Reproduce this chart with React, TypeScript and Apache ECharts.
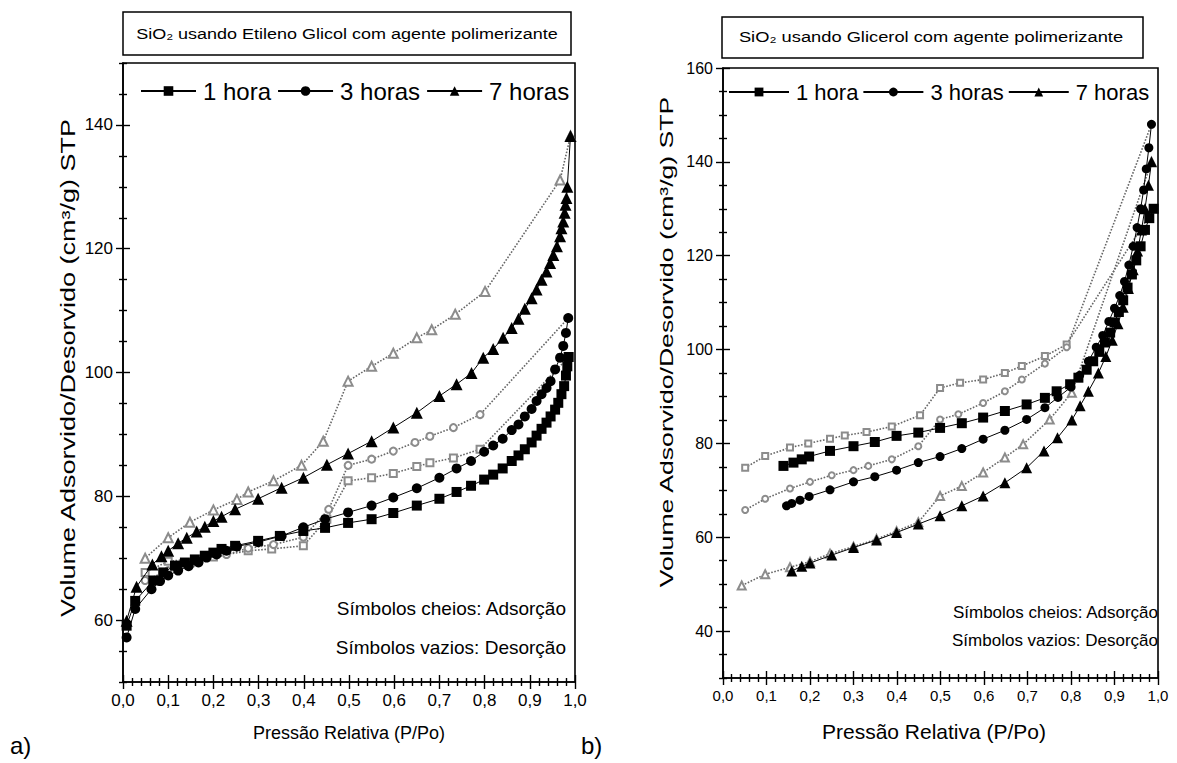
import React, { useEffect, useRef } from 'react';
import * as echarts from 'echarts';

const FONT = 'Liberation Sans, Arial, sans-serif';

// ---------- tick values ----------
const X_MAJOR = [0, 0.1, 0.2, 0.3, 0.4, 0.5, 0.6, 0.7, 0.8, 0.9, 1.0];
const A_Y_MAJOR = [60, 80, 100, 120, 140];
const B_Y_MAJOR = [40, 60, 80, 100, 120, 140, 160];

// ---------- panel a : SiO2 / Etileno Glicol ----------
const A_ADS_1H = [[0.008,59.1],[0.027,63.1],[0.067,66.4],[0.089,67.7],[0.115,68.8],[0.137,69.3],[0.159,69.8],[0.181,70.4],[0.200,70.9],[0.218,71.5],[0.248,72.0],[0.299,72.8],[0.347,73.6],[0.399,74.4],[0.447,74.9],[0.498,75.7],[0.550,76.3],[0.598,77.3],[0.650,78.5],[0.700,79.6],[0.738,80.7],[0.770,81.7],[0.799,82.7],[0.819,83.5],[0.840,84.5],[0.860,85.7],[0.875,86.6],[0.889,87.6],[0.904,88.7],[0.915,89.8],[0.926,90.9],[0.937,91.9],[0.946,92.9],[0.956,94.0],[0.963,95.1],[0.970,96.5],[0.976,97.8],[0.980,99.5],[0.983,101.0],[0.986,102.5]];
const A_DES_1H = [[0.986,102.5],[0.790,87.6],[0.731,86.2],[0.679,85.4],[0.650,84.8],[0.598,83.7],[0.550,83.0],[0.498,82.5],[0.451,76.3],[0.399,72.0],[0.329,71.5],[0.277,71.2],[0.200,70.2],[0.100,69.5],[0.049,67.7]];
const A_ADS_3H = [[0.008,57.2],[0.027,61.8],[0.063,65.0],[0.082,66.3],[0.100,67.2],[0.122,68.0],[0.145,68.7],[0.167,69.3],[0.185,70.1],[0.207,70.6],[0.229,71.2],[0.252,71.9],[0.299,72.6],[0.351,73.6],[0.399,75.0],[0.447,76.3],[0.498,77.4],[0.550,78.5],[0.598,79.8],[0.650,81.3],[0.700,83.0],[0.738,84.5],[0.770,85.7],[0.799,87.2],[0.819,88.2],[0.840,89.3],[0.860,90.7],[0.875,91.6],[0.889,92.9],[0.904,94.1],[0.915,95.4],[0.926,96.5],[0.937,97.5],[0.946,98.6],[0.956,100.5],[0.967,102.4],[0.974,104.3],[0.980,106.4],[0.985,108.8]];
const A_DES_3H = [[0.985,108.8],[0.790,93.2],[0.731,91.1],[0.679,89.7],[0.646,88.7],[0.598,87.3],[0.550,86.0],[0.498,85.0],[0.455,77.9],[0.399,73.4],[0.333,72.2],[0.277,71.6],[0.229,70.6],[0.150,69.0],[0.100,68.0],[0.049,66.4]];
const A_ADS_7H = [[0.008,59.9],[0.030,65.4],[0.065,69.0],[0.085,70.3],[0.100,71.2],[0.122,72.4],[0.141,73.3],[0.163,74.3],[0.181,75.1],[0.200,76.0],[0.218,76.7],[0.248,77.9],[0.299,79.6],[0.351,81.4],[0.399,83.0],[0.451,85.1],[0.498,86.9],[0.550,88.9],[0.598,91.1],[0.650,93.5],[0.700,96.2],[0.738,98.1],[0.771,99.9],[0.797,102.4],[0.819,103.8],[0.841,105.6],[0.860,107.2],[0.875,108.7],[0.889,110.3],[0.904,112.0],[0.915,113.4],[0.926,115.0],[0.937,116.3],[0.945,117.7],[0.952,119.0],[0.960,120.4],[0.967,122.0],[0.970,123.3],[0.974,124.4],[0.977,125.8],[0.979,127.1],[0.981,128.2],[0.983,130.0],[0.990,138.2]];
const A_DES_7H = [[0.990,138.2],[0.967,131.1],[0.801,113.1],[0.735,109.4],[0.683,106.9],[0.650,105.6],[0.598,103.1],[0.550,101.0],[0.498,98.6],[0.443,88.9],[0.395,85.0],[0.333,82.5],[0.277,80.7],[0.252,79.5],[0.200,77.8],[0.148,75.8],[0.100,73.3],[0.049,70.0]];

// ---------- panel b : SiO2 / Glicerol ----------
const B_ADS_1H = [[0.139,75.2],[0.162,75.9],[0.181,76.6],[0.198,77.2],[0.246,78.4],[0.300,79.4],[0.349,80.3],[0.399,81.6],[0.449,82.3],[0.499,83.3],[0.549,84.3],[0.598,85.5],[0.648,86.9],[0.698,88.3],[0.740,89.7],[0.767,91.1],[0.798,92.6],[0.817,94.0],[0.836,95.7],[0.851,97.5],[0.865,99.5],[0.878,101.5],[0.890,103.6],[0.900,105.8],[0.910,108.0],[0.920,110.5],[0.930,113.2],[0.940,116.0],[0.950,119.0],[0.960,122.0],[0.970,125.5],[0.980,128.0],[0.990,130.0]];
const B_DES_1H = [[0.990,130.0],[0.790,101.1],[0.740,98.6],[0.687,96.5],[0.648,95.0],[0.598,93.6],[0.545,92.9],[0.499,91.8],[0.453,86.0],[0.388,83.6],[0.330,82.4],[0.280,81.7],[0.246,81.0],[0.196,80.0],[0.154,79.1],[0.097,77.3],[0.051,74.8]];
const B_ADS_3H = [[0.146,66.7],[0.158,67.2],[0.177,67.9],[0.198,68.7],[0.246,70.1],[0.300,71.8],[0.349,72.9],[0.399,74.3],[0.449,75.9],[0.499,77.2],[0.549,78.9],[0.598,80.9],[0.648,82.8],[0.698,85.1],[0.740,87.6],[0.770,89.8],[0.800,92.0],[0.820,94.5],[0.840,97.5],[0.858,100.5],[0.873,103.0],[0.887,106.0],[0.900,108.8],[0.912,111.5],[0.923,114.5],[0.933,118.0],[0.943,122.0],[0.952,126.0],[0.960,130.0],[0.967,134.0],[0.973,138.5],[0.979,143.0],[0.985,148.0]];
const B_DES_3H = [[0.985,148.0],[0.790,100.5],[0.740,97.0],[0.687,93.6],[0.648,91.1],[0.598,88.6],[0.541,86.2],[0.499,85.1],[0.449,79.4],[0.388,76.6],[0.334,75.2],[0.300,74.3],[0.250,73.2],[0.200,71.8],[0.154,70.4],[0.097,68.2],[0.051,65.8]];
const B_ADS_7H = [[0.158,52.8],[0.181,53.8],[0.200,54.5],[0.250,56.2],[0.300,57.8],[0.353,59.4],[0.399,61.0],[0.449,62.8],[0.499,64.6],[0.549,66.7],[0.598,68.8],[0.648,71.6],[0.698,74.8],[0.738,78.4],[0.769,81.2],[0.802,85.0],[0.821,88.0],[0.840,91.1],[0.863,95.0],[0.880,98.5],[0.895,102.0],[0.908,105.5],[0.920,109.0],[0.932,113.0],[0.943,117.0],[0.953,121.0],[0.962,125.5],[0.970,130.0],[0.978,135.0],[0.985,140.0]];
const B_DES_7H = [[0.985,140.0],[0.802,90.8],[0.751,85.1],[0.690,79.8],[0.648,77.0],[0.598,73.8],[0.549,70.9],[0.499,68.8],[0.449,63.2],[0.399,61.3],[0.353,59.6],[0.300,58.0],[0.246,56.5],[0.200,54.8],[0.154,53.6],[0.097,52.1],[0.043,49.7]];

const LEGEND_NAMES = ['1 hora', '3 horas', '7 horas'];

function steps(min: number, max: number, step: number, exclude: number[]) {
  const out: number[] = [];
  const n = Math.round((max - min) / step);
  for (let i = 0; i <= n; i++) {
    const v = +(min + i * step).toFixed(4);
    if (!exclude.some((e) => Math.abs(e - v) < 1e-6)) out.push(v);
  }
  return out;
}

function isMajor(v: number, majors: number[]) {
  return majors.some((m) => Math.abs(m - v) < 1e-6);
}

function axisSet(dim: 'x' | 'y', gridIndex: number, min: number, max: number, interval: number, majors: number[], minors: number[], fmt: (v: number) => string, fontSize: number, margin: number) {
  const position = dim === 'x' ? 'bottom' : 'left';
  const base = { type: 'value', gridIndex, min, max, interval, position, splitLine: { show: false } };
  const tl = { color: '#000', width: 1.4 };
  return [
    {
      ...base,
      axisLine: { show: true, lineStyle: { color: '#000', width: 1.6 } },
      axisTick: { show: true, customValues: majors, length: 7, inside: false, lineStyle: tl },
      axisLabel: {
        show: true, showMinLabel: true, showMaxLabel: true, hideOverlap: false,
        formatter: (v: number) => (isMajor(v, majors) ? fmt(v) : ''),
        fontSize, fontFamily: FONT, color: '#000', margin,
      },
    },
    { ...base, axisLine: { show: false }, axisTick: { show: true, customValues: majors, length: 7, inside: true, lineStyle: tl }, axisLabel: { show: false } },
    { ...base, axisLine: { show: false }, axisTick: { show: true, customValues: minors, length: 4, inside: false, lineStyle: tl }, axisLabel: { show: false } },
    { ...base, axisLine: { show: false }, axisTick: { show: true, customValues: minors, length: 4, inside: true, lineStyle: tl }, axisLabel: { show: false } },
  ];
}

const fmtX = (v: number) => v.toFixed(1).replace('.', ',');
const fmtY = (v: number) => String(Math.round(v));

function ads(name: string, data: number[][], symbol: string, size: number, ai: number) {
  return {
    type: 'line', name, data, symbol, symbolSize: size, xAxisIndex: ai, yAxisIndex: ai,
    itemStyle: { color: '#000' }, lineStyle: { color: '#000', width: 1 }, z: 4,
  };
}
function des(name: string, data: number[][], symbol: string, size: number, ai: number) {
  return {
    type: 'line', name, data, symbol, symbolSize: size, xAxisIndex: ai, yAxisIndex: ai,
    itemStyle: { color: '#8c8c8c', borderWidth: 1 }, lineStyle: { color: '#666', width: 1.6, type: 'dotted' }, z: 3,
  };
}

export default function App() {
  const ref = useRef<HTMLDivElement>(null);
  useEffect(() => {
    const chart = echarts.init(ref.current!, null, { renderer: 'svg' });
    const xMinor = steps(0, 1, 0.02, X_MAJOR);
    const aYMinor = steps(50, 150, 5, A_Y_MAJOR);
    const bYMinor = steps(30, 160, 5, B_Y_MAJOR);
    const option: any = {
      animation: false,
      backgroundColor: '#fff',
      textStyle: { fontFamily: FONT },
      grid: [
        { left: 123, top: 63, width: 452, height: 619, show: true, borderColor: '#000', borderWidth: 1.6, backgroundColor: 'transparent' },
        { left: 723, top: 68, width: 435, height: 610, show: true, borderColor: '#000', borderWidth: 1.6, backgroundColor: 'transparent' },
      ],
      xAxis: [
        ...axisSet('x', 0, 0, 1, 0.1, X_MAJOR, xMinor, fmtX, 17, 10),
        ...axisSet('x', 1, 0, 1, 0.1, X_MAJOR, xMinor, fmtX, 15, 10),
      ],
      yAxis: [
        ...axisSet('y', 0, 50, 150, 10, A_Y_MAJOR, aYMinor, fmtY, 17, 10),
        ...axisSet('y', 1, 30, 160, 10, B_Y_MAJOR, bYMinor, fmtY, 16, 10),
      ],
      legend: [
        { data: LEGEND_NAMES, left: 135, top: 74, itemWidth: 55, itemHeight: 12, itemGap: 6, selectedMode: false, textStyle: { fontSize: 24, fontFamily: FONT, color: '#000', padding: [0, 0, 0, 2] } },
        { data: LEGEND_NAMES, left: 723, top: 76, itemWidth: 60, itemHeight: 11, itemGap: 4, selectedMode: false, textStyle: { fontSize: 22, fontFamily: FONT, color: '#000', padding: [0, 0, 0, 2] } },
      ],
      series: [
        des('a-d1', A_DES_1H, 'emptyRect', 7, 0),
        des('a-d3', A_DES_3H, 'emptyCircle', 7, 0),
        des('a-d7', A_DES_7H, 'emptyTriangle', 9, 0),
        ads('1 hora', A_ADS_1H, 'rect', 10, 0),
        ads('3 horas', A_ADS_3H, 'circle', 10, 0),
        ads('7 horas', A_ADS_7H, 'triangle', 12, 0),
        des('b-d1', B_DES_1H, 'emptyRect', 6, 4),
        des('b-d3', B_DES_3H, 'emptyCircle', 6, 4),
        des('b-d7', B_DES_7H, 'emptyTriangle', 8, 4),
        ads('1 hora', B_ADS_1H, 'rect', 10, 4),
        ads('3 horas', B_ADS_3H, 'circle', 9, 4),
        ads('7 horas', B_ADS_7H, 'triangle', 11, 4),
      ],
      graphic: [
        { type: 'rect', shape: { x: 123, y: 12, width: 448, height: 43 }, style: { fill: '#fff', stroke: '#000', lineWidth: 1.5 } },
        { type: 'text', x: 347, y: 34, scaleX: 1.2, style: { text: 'SiO₂ usando Etileno Glicol com agente polimerizante', fontSize: 15, fontFamily: FONT, fill: '#000', align: 'center', verticalAlign: 'middle' } },
        { type: 'rect', shape: { x: 722, y: 17, width: 421, height: 41 }, style: { fill: '#fff', stroke: '#000', lineWidth: 1.5 } },
        { type: 'text', x: 931, y: 37, scaleX: 1.22, style: { text: 'SiO₂ usando Glicerol com agente polimerizante', fontSize: 15, fontFamily: FONT, fill: '#000', align: 'center', verticalAlign: 'middle' } },
        { type: 'text', x: 68, y: 368, rotation: Math.PI / 2, scaleX: 1.35, style: { text: 'Volume Adsorvido/Desorvido (cm³/g) STP', fontSize: 20, fontFamily: FONT, fill: '#000', align: 'center', verticalAlign: 'middle' } },
        { type: 'text', x: 666, y: 342, rotation: Math.PI / 2, scaleX: 1.4, style: { text: 'Volume Adsorvido/Desorvido (cm³/g) STP', fontSize: 19, fontFamily: FONT, fill: '#000', align: 'center', verticalAlign: 'middle' } },
        { type: 'text', x: 349, y: 733, style: { text: 'Pressão Relativa (P/Po)', fontSize: 18, fontFamily: FONT, fill: '#000', align: 'center', verticalAlign: 'middle' } },
        { type: 'text', x: 934, y: 731, style: { text: 'Pressão Relativa (P/Po)', fontSize: 21, fontFamily: FONT, fill: '#000', align: 'center', verticalAlign: 'middle' } },
        { type: 'text', x: 10, y: 745, style: { text: 'a)', fontSize: 24, fontFamily: FONT, fill: '#000', align: 'left', verticalAlign: 'middle' } },
        { type: 'text', x: 581, y: 745, style: { text: 'b)', fontSize: 24, fontFamily: FONT, fill: '#000', align: 'left', verticalAlign: 'middle' } },
        { type: 'text', x: 566, y: 608, style: { text: 'Símbolos cheios: Adsorção', fontSize: 19, fontFamily: FONT, fill: '#000', align: 'right', verticalAlign: 'middle' } },
        { type: 'text', x: 566, y: 647, style: { text: 'Símbolos vazios: Desorção', fontSize: 19, fontFamily: FONT, fill: '#000', align: 'right', verticalAlign: 'middle' } },
        { type: 'text', x: 1158, y: 612, style: { text: 'Símbolos cheios: Adsorção', fontSize: 17, fontFamily: FONT, fill: '#000', align: 'right', verticalAlign: 'middle' } },
        { type: 'text', x: 1158, y: 640, style: { text: 'Símbolos vazios: Desorção', fontSize: 17, fontFamily: FONT, fill: '#000', align: 'right', verticalAlign: 'middle' } },
      ],
    };
    chart.setOption(option);
    return () => chart.dispose();
  }, []);
  return <div ref={ref} style={{ position: 'fixed', left: 0, top: 0, width: 1177, height: 763, background: '#fff' }} />;
}
